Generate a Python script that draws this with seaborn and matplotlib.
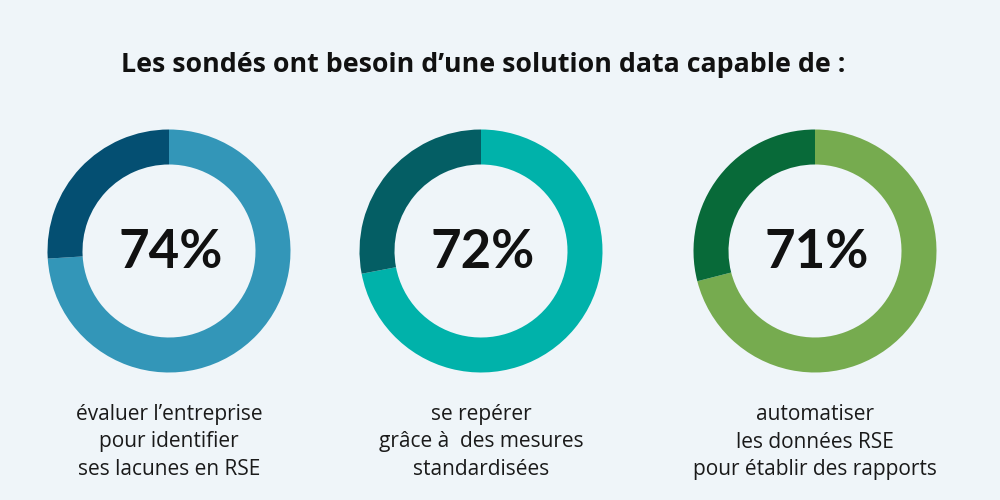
import matplotlib
matplotlib.use("Agg")
import matplotlib.pyplot as plt
import seaborn as sns

# Data
title = "Les sondés ont besoin d\u2019une solution data capable de :"
values = [74, 72, 71]
labels = [
    "évaluer l\u2019entreprise\npour identifier\nses lacunes en RSE",
    "se repérer\ngrâce à  des mesures\nstandardisées",
    "automatiser\nles données RSE\npour établir des rapports",
]
main_colors = ["#3396b8", "#00b2aa", "#76ab4f"]
rest_colors = ["#044f72", "#045e64", "#086a39"]
bg = "#eff5f9"

sns.set_theme(style="white", rc={"figure.facecolor": bg, "axes.facecolor": bg})
plt.rcParams["font.family"] = ["Open Sans", "DejaVu Sans"]

fig = plt.figure(figsize=(10, 5), dpi=100)
ax = fig.add_axes([0, 0, 1, 1])
ax.set_facecolor(bg)

centers_x = [169, 481, 815]
cy = 249
r_out = 121.5
ring = 35

for i, v in enumerate(values):
    ax.pie([v, 100 - v], colors=[main_colors[i], rest_colors[i]],
           startangle=90, counterclock=False, radius=r_out,
           center=(centers_x[i], cy), frame=True,
           wedgeprops=dict(width=ring, linewidth=0))
    ax.text(centers_x[i] + 2, cy - 1, f"{v}%", ha="center", va="center",
            fontsize=38, fontweight="bold", color="#111111",
            family=["Lato", "DejaVu Sans"])
    ax.text(centers_x[i], 500 - 442, labels[i], ha="center", va="center",
            fontsize=15, color="#1a1a1a", linespacing=1.42)

ax.text(483, 500 - 65, title, ha="center", va="center", fontsize=19.3,
        fontweight="bold", color="#111111")

ax.set_xlim(0, 1000)
ax.set_ylim(0, 500)
ax.set_aspect("equal")
ax.axis("off")

fig.savefig("out.png", dpi=100, facecolor=bg)
